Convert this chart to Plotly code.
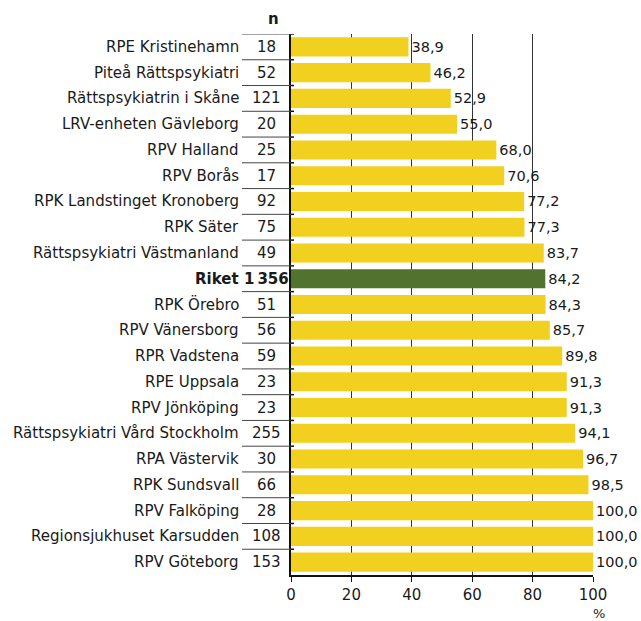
import plotly.graph_objects as go

categories = ["RPE Kristinehamn", "Piteå Rättspsykiatri", "Rättspsykiatrin i Skåne",
              "LRV-enheten Gävleborg", "RPV Halland", "RPV Borås", "RPK Landstinget Kronoberg",
              "RPK Säter", "Rättspsykiatri Västmanland", "Riket", "RPK Örebro", "RPV Vänersborg",
              "RPR Vadstena", "RPE Uppsala", "RPV Jönköping", "Rättspsykiatri Vård Stockholm",
              "RPA Västervik", "RPK Sundsvall", "RPV Falköping", "Regionsjukhuset Karsudden",
              "RPV Göteborg"]
n_values = ["18", "52", "121", "20", "25", "17", "92", "75", "49", "1\u2009356", "51", "56",
            "59", "23", "23", "255", "30", "66", "28", "108", "153"]
values = [38.9, 46.2, 52.9, 55.0, 68.0, 70.6, 77.2, 77.3, 83.7, 84.2, 84.3, 85.7,
          89.8, 91.3, 91.3, 94.1, 96.7, 98.5, 100.0, 100.0, 100.0]
x_ticks = [0, 20, 40, 60, 80, 100]

YELLOW = "#F2D01F"
GREEN = "#52722F"
FONT = "DejaVu Sans"
FS = 14.5
FS_LAB = 15
TXT = "#1a1a1a"

colors = [GREEN if c == "Riket" else YELLOW for c in categories]
texts = [f"{v:.1f}".replace(".", ",") for v in values]

fig = go.Figure()
fig.add_trace(go.Bar(
    y=categories, x=values, orientation="h",
    marker=dict(color=colors, line=dict(width=0)),
    text=texts, textposition="outside", cliponaxis=False,
    constraintext="none",
    textfont=dict(family=FONT, size=FS, color=TXT),
    width=0.74,
))

W, H = 641, 621
L, T = 291, 34
PW, PH = 302, 541
R, B = W - L - PW, H - T - PH
def px_to_paper(px):
    return (px - L) / PW

annotations = []
shapes = []
for i, (c, n) in enumerate(zip(categories, n_values)):
    bold = c == "Riket"
    annotations.append(dict(
        x=px_to_paper(241), xref="paper", y=c, yref="y", xanchor="right",
        text=f"<b>{c}</b>" if bold else c, showarrow=False,
        font=dict(family=FONT, size=FS_LAB, color=TXT)))
    annotations.append(dict(
        x=px_to_paper(266), xref="paper", y=c, yref="y", xanchor="center",
        text=f"<b>{n}</b>" if bold else n, showarrow=False,
        font=dict(family=FONT, size=FS_LAB, color=TXT)))
nrows = len(categories)
for i in range(nrows):
    yb = i - 0.5
    shapes.append(dict(type="line", xref="paper", yref="y",
                       x0=px_to_paper(242), x1=0, y0=yb, y1=yb,
                       line=dict(color="#444", width=1)))
    shapes.append(dict(type="line", xref="paper", yref="y",
                       x0=0, x1=px_to_paper(294), y0=yb, y1=yb,
                       line=dict(color="#111", width=1.5)))
annotations.append(dict(x=px_to_paper(266), xref="paper", y=1.0, yref="paper",
                        yanchor="bottom", yshift=4, text="<b>n</b>", showarrow=False,
                        font=dict(family=FONT, size=FS_LAB, color=TXT)))
annotations.append(dict(x=100, xref="x", y=0, yref="paper", yshift=-29,
                        yanchor="top", xanchor="left", xshift=-2, text="%", showarrow=False,
                        font=dict(family=FONT, size=13, color=TXT)))

fig.update_layout(
    width=W, height=H,
    margin=dict(l=L, r=R, t=T, b=B, autoexpand=False, pad=0),
    plot_bgcolor="white", paper_bgcolor="white",
    showlegend=False,
    annotations=annotations, shapes=shapes,
    xaxis=dict(range=[0, 100], tickvals=x_ticks, ticktext=[str(t) for t in x_ticks],
               showgrid=True, gridcolor="#333", gridwidth=1,
               showline=True, linecolor="#111", linewidth=1.5,
               ticks="outside", ticklen=5, tickcolor="#111", tickwidth=1,
               tickfont=dict(family=FONT, size=FS_LAB, color=TXT), zeroline=False),
    yaxis=dict(showticklabels=False, showgrid=False,
               showline=True, linecolor="#111", linewidth=2, ticks="",
               range=[nrows - 0.5, -0.5]),
)
fig.write_html("out.html", config={"displayModeBar": False},
               post_script="document.body.style.margin='0';document.body.style.overflow='hidden';")
